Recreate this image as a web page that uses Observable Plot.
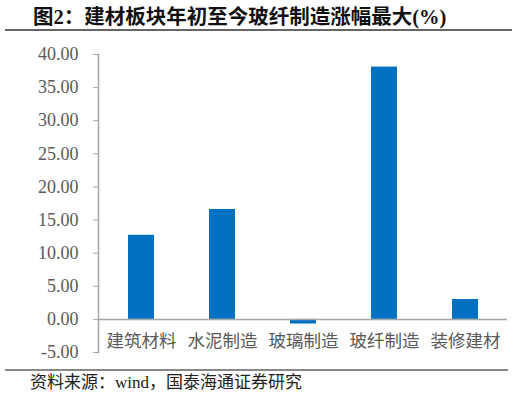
<!DOCTYPE html>
<html>
<head>
<meta charset="utf-8">
<script src="https://cdn.jsdelivr.net/npm/d3@7"></script>
<script src="https://cdn.jsdelivr.net/npm/@observablehq/plot@0.6"></script>
<style>
  html, body { margin: 0; padding: 0; background: #fff; }
  #page { position: relative; width: 528px; height: 397px; overflow: hidden; background: #fff; }
  #title {
    position: absolute; left: 33px; top: 3px; white-space: nowrap;
    font-family: "Liberation Serif", "Noto Sans CJK SC", serif;
    font-weight: 700; font-size: 20.5px; line-height: 28px; color: #111;
  }
  #titleRule { position: absolute; left: 5px; top: 29px; width: 507px; height: 1.5px; background: #666; }
  #chart { position: absolute; left: 0; top: 30px; }
  #captionRule { position: absolute; left: 5px; top: 369px; width: 503px; height: 1.5px; background: #888; }
  #caption {
    position: absolute; left: 30px; top: 373px; white-space: nowrap;
    font-family: "Liberation Serif", "Noto Sans CJK SC", serif;
    font-size: 17px; line-height: 20px; color: #222;
  }
</style>
</head>
<body>
<div id="page">
  <div id="title">图2：建材板块年初至今玻纤制造涨幅最大(%)</div>
  <div id="titleRule"></div>
  <div id="chart"></div>
  <div id="captionRule"></div>
  <div id="caption">资料来源：wind，国泰海通证券研究</div>
</div>
<script>
// Year-to-date change by building-materials sub-sector (%)
const categories = ["建筑材料", "水泥制造", "玻璃制造", "玻纤制造", "装修建材"];
const changes = [12.7, 16.6, -0.7, 38.1, 3.0];
const yTicks = [-5, 0, 5, 10, 15, 20, 25, 30, 35, 40];

const rows = categories.map((c, i) => ({ sector: c, change: changes[i] }));

const chart = Plot.plot({
  width: 528,
  height: 339,
  marginLeft: 98,
  marginRight: 21,
  marginTop: 24,
  marginBottom: 17,
  style: { fontFamily: "Liberation Serif, serif", fontSize: "18px", color: "#595959", background: "transparent" },
  x: { domain: categories, paddingInner: 0.68, paddingOuter: 0.34, axis: null },
  y: { domain: [-5, 40], axis: null },
  marks: [
    Plot.barY(rows, { x: "sector", y: "change", fill: "#0070c0" }),
    Plot.ruleY([0], { stroke: "#a6a6a6", strokeWidth: 1.5 }),
    Plot.frame({ anchor: "left", stroke: "#a6a6a6", strokeWidth: 1.5 }),
    Plot.axisY(yTicks, {
      label: null,
      tickSize: 5,
      tickPadding: 15,
      tickFormat: d => d.toFixed(2),
      stroke: "#a6a6a6",
      fill: "#595959",
      fontSize: 18
    }),
    Plot.text(rows, {
      x: "sector",
      y: d => 0,
      dy: 22.5,
      text: "sector",
      fontFamily: "Noto Sans CJK SC",
      fontSize: 17.5,
      fill: "#595959"
    })
  ]
});
document.getElementById("chart").appendChild(chart);
</script>
</body>
</html>
